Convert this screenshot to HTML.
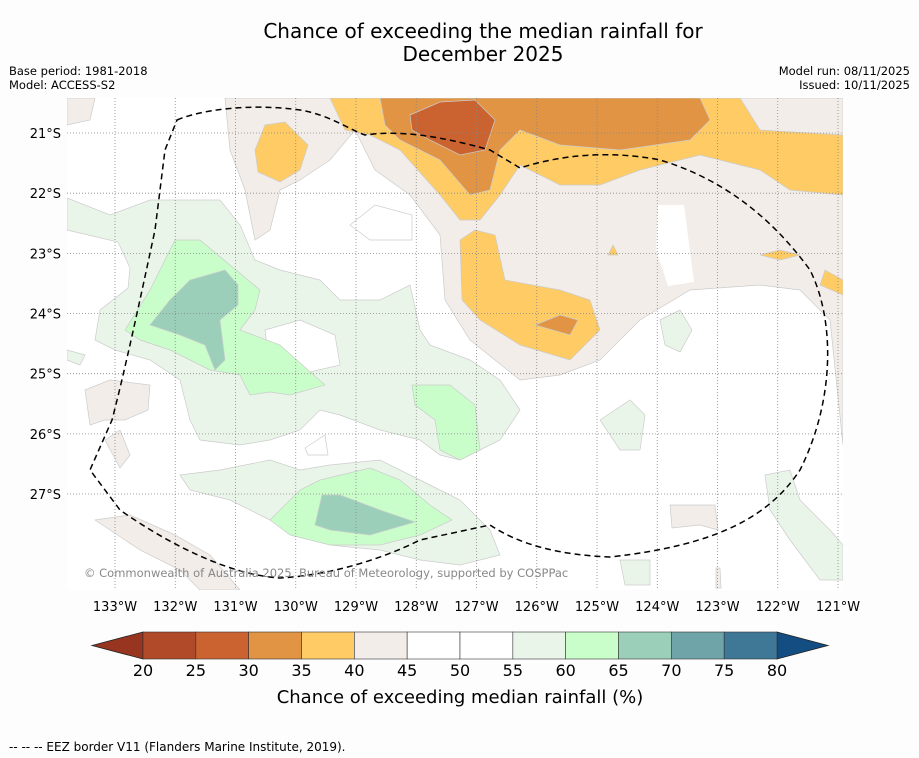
<!DOCTYPE html>
<html><head><meta charset="utf-8"><style>
body{margin:0;background:#fdfdfd;font-family:"DejaVu Sans","Liberation Sans",sans-serif;}
svg{display:block}
</style></head><body>
<svg width="919" height="758" viewBox="0 0 919 758" xmlns="http://www.w3.org/2000/svg">
<rect width="919" height="758" fill="#fdfdfd"/>
<text x="483" y="38" font-size="20" text-anchor="middle">Chance of exceeding the median rainfall for</text>
<text x="483" y="61" font-size="20" text-anchor="middle">December 2025</text>
<text x="9" y="75" font-size="11.5">Base period: 1981-2018</text>
<text x="9" y="89" font-size="11.5">Model: ACCESS-S2</text>
<text x="910" y="75" font-size="11.5" text-anchor="end">Model run: 08/11/2025</text>
<text x="910" y="89" font-size="11.5" text-anchor="end">Issued: 10/11/2025</text>
<defs><clipPath id="mc"><rect x="67" y="98" width="776" height="492"/></clipPath></defs>
<g clip-path="url(#mc)" stroke="#ccc" stroke-width="0.7">
<rect x="67" y="98" width="776" height="492" fill="#fff" stroke="none"/>
<polygon fill="#f2ede8" points="225,98 230,150 245,190 255,240 270,230 280,190 300,180 330,160 355,130 375,170 410,195 440,235 445,300 470,340 520,380 560,375 600,360 640,320 690,290 760,285 800,290 830,320 843,445 843,98"/>
<polygon fill="#fff" stroke="none" points="658,205 684,205 694,282 668,286 656,250"/>
<polygon fill="#fff" stroke="none" points="690,300 780,295 815,320 830,380 843,450 800,445 740,430 700,400 680,350"/>
<polygon fill="#f2ede8" points="67,98 95,98 90,120 67,125"/>
<polygon fill="#fecb65" points="330,98 740,98 760,130 843,135 843,195 790,190 760,170 700,155 640,170 600,185 560,185 520,165 500,195 480,220 460,220 440,195 400,150 370,135 345,130"/>
<polygon fill="#fecb65" points="255,150 265,125 285,122 308,145 300,170 280,182 258,172"/>
<polygon fill="#fecb65" points="460,240 475,230 495,235 505,280 560,290 590,300 600,330 570,360 520,345 480,320 462,300"/>
<polygon fill="#fecb65" points="820,285 825,270 843,280 843,295"/>
<polygon fill="#fecb65" points="760,255 780,250 800,255 780,260"/>
<polygon fill="#fecb65" points="608,255 613,245 618,255"/>
<polygon fill="#e09444" points="380,98 700,98 710,120 690,140 620,150 560,145 520,130 500,150 490,190 470,195 440,160 400,140 385,125"/>
<polygon fill="#e09444" points="535,325 560,315 578,320 570,335"/>
<polygon fill="#cb6331" points="410,115 440,102 475,100 495,120 485,150 460,155 430,140 412,130"/>
<polygon fill="#eaf5ea" points="67,198 110,215 150,200 220,200 240,225 255,260 280,270 320,280 340,300 380,300 410,285 420,330 430,345 470,360 500,380 520,410 500,440 480,450 460,460 440,455 420,440 380,430 340,415 320,410 300,430 270,440 240,445 200,440 190,420 180,380 150,360 115,350 95,340 100,310 128,288 130,268 118,242 67,230"/>
<polygon fill="#fff" points="265,330 300,320 335,335 340,365 310,372 270,370"/>
<polygon fill="#eaf5ea" points="180,475 220,470 270,460 300,470 330,465 380,460 420,480 460,500 490,530 500,555 460,565 420,560 380,550 330,545 290,530 260,515 230,500 190,490"/>
<polygon fill="#eaf5ea" points="600,420 630,400 645,415 640,450 620,450"/>
<polygon fill="#eaf5ea" points="660,320 680,310 692,330 680,352 665,345"/>
<polygon fill="#eaf5ea" points="765,475 790,470 800,500 830,530 843,545 843,580 820,580 790,540 770,510"/>
<polygon fill="#eaf5ea" points="620,560 650,560 650,585 625,585"/>
<polygon fill="#eaf5ea" points="67,350 85,355 80,365 67,360"/>
<polygon fill="#c9fdc9" points="125,330 150,290 175,240 200,240 230,265 260,290 255,310 240,330 280,345 325,385 290,395 270,392 250,395 240,375 210,370 170,350 140,340"/>
<polygon fill="#c9fdc9" points="412,385 450,385 475,405 480,450 460,460 440,450 435,420 415,405"/>
<polygon fill="#c9fdc9" points="270,520 300,490 320,480 370,468 400,480 430,505 452,520 420,535 380,545 330,545 290,535"/>
<polygon fill="#9ccfba" points="150,325 170,300 190,280 225,270 238,285 238,305 220,320 225,360 215,370 205,345 180,335"/>
<polygon fill="#9ccfba" points="315,525 322,495 340,495 380,510 415,522 370,535 330,530"/>
<polygon fill="#f2ede8" points="85,390 110,380 150,385 148,410 125,420 105,420 90,425"/>
<polygon fill="#f2ede8" points="105,440 120,430 130,455 120,468"/>
<polygon fill="#f2ede8" points="95,520 130,515 175,535 210,555 240,590 200,590 180,570 140,550"/>
<polygon fill="#f2ede8" points="670,505 715,505 718,530 700,525 672,528"/>
<polygon fill="#f2ede8" points="716,568 720,568 721,588 716,588"/>
<polygon fill="#fff" points="350,225 375,205 412,215 412,240 370,240"/>
<polygon fill="#fff" points="305,448 325,435 328,455 308,455"/>
<g stroke="#888" stroke-width="0.8" stroke-dasharray="1,2" id="grid"></g>
<path fill="none" stroke="#000" stroke-width="1.5" stroke-dasharray="6,4" d="M177,120 C200,110 250,103 300,110 C330,115 350,130 365,135 C400,130 440,136 490,150 L520,168 C560,155 610,150 660,160 C720,178 770,215 810,270 C835,320 835,400 800,470 C770,515 720,545 610,557 C560,555 520,545 490,525 L420,540 C380,560 330,575 280,578 C230,575 170,545 120,510 L90,470 L112,420 C125,370 140,300 155,230 L165,150 Z"/>
<text x="84" y="577" font-size="11.5" fill="#888" stroke="none">© Commonwealth of Australia 2025, Bureau of Meteorology, supported by COSPPac</text>
</g>
<g id="axes" font-size="13"></g>
<g id="cbar"></g>
<text x="460" y="703" font-size="18" text-anchor="middle">Chance of exceeding median rainfall (%)</text>
<text x="9" y="751" font-size="12">--  --  -- EEZ border V11 (Flanders Marine Institute, 2019).</text>
</svg>
<script>
const lonLabels=["133°W","132°W","131°W","130°W","129°W","128°W","127°W","126°W","125°W","124°W","123°W","122°W","121°W"];
const latLabels=["21°S","22°S","23°S","24°S","25°S","26°S","27°S"];
const levels=[20,25,30,35,40,45,50,55,60,65,70,75,80];
const binColors=["#b04a28","#cb6331","#e09444","#fecb65","#f2ede8","#ffffff","#ffffff","#eaf5ea","#c9fdc9","#9ccfba","#6fa5a8","#3f7796"];
const ns="http://www.w3.org/2000/svg";
function mk(t,a,p){const e=document.createElementNS(ns,t);for(const k in a)e.setAttribute(k,a[k]);p.appendChild(e);return e;}
const xLon=i=>115+i*60.25, yLat=i=>133+i*60.17;
const grid=document.getElementById('grid'), axes=document.getElementById('axes');
lonLabels.forEach((l,i)=>{
  const ln=mk('line',{x1:xLon(i),x2:xLon(i),y1:98,y2:590},grid);
  
  
  const t=mk('text',{x:xLon(i),y:611,'text-anchor':'middle'},axes);t.textContent=l;
  
  
});
latLabels.forEach((l,i)=>{
  const ln=mk('line',{x1:67,x2:843,y1:yLat(i),y2:yLat(i)},grid);
  
  
  const t=mk('text',{x:61,y:yLat(i)+5,'text-anchor':'end'},axes);t.textContent=l;
  
  
});
const cb=document.getElementById('cbar');
const cx=v=>143+(v-20)*(777-143)/60;
const tl=mk('polygon',{points:`92,645.5 ${cx(20)},632 ${cx(20)},659`,fill:'#983521',stroke:'#222','stroke-width':0.8},cb);


const tr=mk('polygon',{points:`828,645.5 ${cx(80)},632 ${cx(80)},659`,fill:'#144d82',stroke:'#222','stroke-width':0.8},cb);


binColors.forEach((c,i)=>{
  const r=mk('rect',{x:cx(levels[i]),y:632,width:cx(levels[i+1])-cx(levels[i]),height:27,fill:c,stroke:'#333','stroke-width':0.6},cb);
  
  
});
levels.forEach(v=>{
  const t=mk('text',{x:cx(v),y:676,'text-anchor':'middle','font-size':16},cb);t.textContent=v;
  
  
});
</script>
</body></html>
